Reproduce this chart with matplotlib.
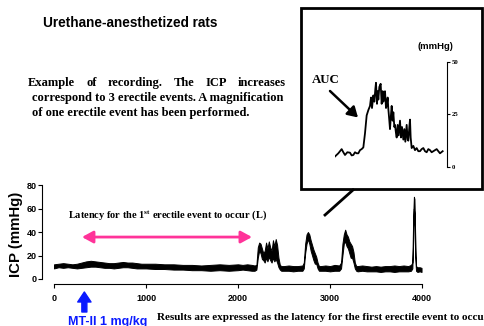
import matplotlib
matplotlib.use("Agg")
import matplotlib.pyplot as plt
from matplotlib.patches import Rectangle, FancyArrowPatch
from matplotlib.lines import Line2D

plt.rcParams['font.family'] = ['Liberation Sans', 'DejaVu Sans']
plt.rcParams['mathtext.fontset'] = 'custom'
plt.rcParams['mathtext.rm'] = 'Liberation Serif:bold'
plt.rcParams['mathtext.bf'] = 'Liberation Serif:bold'

# ---------------- data ----------------
# main ICP recording (time in s) given as lower / upper envelope of the noisy trace
trace_t = [0, 50, 100, 150, 200, 250, 300, 350, 400, 450, 500, 550, 600, 650, 700, 750,
           800, 850, 900, 950, 1000, 1100, 1200, 1300, 1400, 1500, 1600, 1700, 1800, 1900,
           2000, 2050, 2100, 2150, 2180,
           2200, 2215, 2230, 2245, 2260, 2275, 2290, 2305, 2320, 2335, 2350, 2365, 2380,
           2395, 2410, 2425, 2440, 2455, 2470,
           2500, 2550, 2600, 2650, 2700,
           2715, 2730, 2745, 2760, 2775, 2790, 2805, 2820, 2835, 2850, 2865, 2880,
           2900, 2950, 3000, 3050, 3100,
           3120, 3135, 3150, 3165, 3180, 3195, 3210, 3225, 3240, 3255, 3270, 3285,
           3300, 3350, 3400, 3450, 3500, 3550, 3600, 3650, 3700, 3750, 3800, 3850, 3880,
           3895, 3905, 3912, 3918, 3925, 3935,
           3950, 3975, 3995]
trace_lo = [9, 10, 9.5, 10, 9.5, 9, 9.5, 10, 10.5, 10.5, 10, 9.5, 9.5, 9, 9.5, 10,
            10, 9.5, 9, 9, 9, 8.5, 8.5, 8, 8, 7.5, 7.5, 7, 7.5, 7,
            7.5, 8, 7.5, 7, 7,
            8, 18, 24, 22, 17, 16, 14, 18, 15, 19, 16, 14, 18,
            15, 17, 14, 10, 8, 7,
            7, 7, 6.5, 7, 7,
            9, 22, 30, 34, 30, 24, 20, 16, 13, 13, 9, 7,
            7, 7, 6.5, 7, 7,
            9, 20, 30, 32, 28, 26, 22, 18, 18, 14, 9, 7,
            6.5, 7, 6.5, 6.5, 6.5, 6, 6.5, 6.5, 6, 6.5, 6.5, 6.5, 7,
            9, 35, 60, 55, 20, 7,
            6, 6.5, 6]
trace_hi = [12.5, 13, 13.5, 13, 12.5, 13, 14, 15, 15.5, 15, 14.5, 14, 13.5, 13.5, 14, 14.5,
            14, 14, 13.5, 13, 13, 13, 12.5, 12.5, 12, 12, 11.5, 12, 12.5, 12,
            12.5, 12, 12.5, 12, 11.5,
            12, 27, 31, 30, 26, 22, 24, 31, 26, 32, 27, 24, 33,
            28, 34, 29, 18, 12, 11,
            11, 11.5, 11, 11, 11.5,
            14, 30, 38, 40, 38, 33, 29, 25, 22, 19, 14, 11,
            11, 11.5, 11, 12, 11.5,
            14, 30, 38, 42, 38, 36, 32, 30, 28, 23, 14, 11,
            11, 11.5, 11, 10.5, 11, 10.5, 11, 11, 11.5, 11, 11.5, 11, 12,
            14, 55, 70, 68, 40, 11,
            10, 10, 9.5]

x_ticks = [0, 1000, 2000, 3000, 4000]
y_ticks = [0, 20, 40, 60, 80]

# magnified erectile event (arbitrary time units) in mmHg
inset_t = [0, 10, 20, 25, 30, 37, 45, 50, 55, 60, 65, 70, 75, 80, 85, 90, 95, 100, 105,
           108, 111, 115, 118, 121, 123, 126, 128, 130, 133, 137, 140, 143, 145, 148,
           150, 153, 155, 158, 160, 163, 165, 168, 170, 173, 175, 178, 180, 183, 185,
           188, 191, 195, 198, 201, 205, 208, 211, 215, 218, 220, 223, 225, 227, 230,
           235, 240, 245, 250, 255, 260, 265, 270, 275, 280, 285, 290, 295, 300, 305,
           310, 315, 319, 323]
inset_v = [5, 6.5, 8.5, 7, 5.7, 7, 6.8, 5.5, 5.7, 7, 6.5, 6.5, 8, 8.5, 9.3, 16, 24.5, 27, 29,
           33, 28, 34, 31, 37, 40, 30, 36, 32, 38, 39.5, 30, 36, 31, 34,
           36, 28, 29, 33, 27.6, 22, 18, 25, 29, 22, 26, 19, 20, 16, 14,
           20, 15, 22, 14, 19, 13, 18, 12, 20, 13, 12.5, 19, 22.5, 14, 9,
           10, 8, 9, 7.5, 7.5, 8.5, 9, 7.5, 7, 8.5, 8, 7, 7.5, 8, 8.5,
           7.5, 6.5, 7, 7.5]
inset_ticks = [0, 25, 50]

drug_time = 330          # MT-II injection time (s)
latency_start = 304
latency_end = 2152
latency_level = 35.7

# ---------------- figure ----------------
W, H = 484, 326
fig = plt.figure(figsize=(W / 100, H / 100), dpi=100)
fig.patch.set_facecolor('white')


def fx(px):
    return px / W


def fy(py):
    return 1 - py / H


renderer = fig.canvas.get_renderer()


def fit_text(px, py, s, target_w, size0=7, vertical=False, **kw):
    t = fig.text(fx(px), fy(py), s, fontsize=size0, **kw)
    bb = t.get_window_extent(renderer)
    w = bb.height if vertical else bb.width
    t.set_fontsize(size0 * target_w / w)
    return t


SERIF = ['Liberation Serif', 'DejaVu Serif']

# main axes
ax = fig.add_axes([fx(54), fy(279), (422 - 54) / W, (279 - 185) / H])
ax.fill_between(trace_t, trace_lo, trace_hi, color='black', lw=0.7, zorder=3)
ax.set_xlim(0, 4000)
ax.set_ylim(0, 80)
ax.set_xticks(x_ticks)
ax.set_yticks(y_ticks)
for s in ['top', 'right']:
    ax.spines[s].set_visible(False)
ax.spines['left'].set_position(('outward', 8.3))
ax.spines['bottom'].set_position(('outward', 3.6))
for s in ['left', 'bottom']:
    ax.spines[s].set_linewidth(0.8)
ax.tick_params(axis='both', length=3, width=0.8, labelsize=6.5)
ax.tick_params(axis='x', pad=4.5)
ax.tick_params(axis='y', pad=1.2)
for lbl in ax.get_xticklabels() + ax.get_yticklabels():
    lbl.set_fontweight('bold')
ax.patch.set_alpha(0)

# y label
fit_text(16.5, 234.5, 'ICP (mmHg)', 86, size0=9, vertical=True, fontweight='bold',
         rotation=90, ha='center', va='center')

# latency double arrow
ax.annotate('', xy=(latency_end, latency_level), xytext=(latency_start, latency_level),
            arrowprops=dict(arrowstyle='<|-|>,head_length=0.55,head_width=0.3',
                            color='#FF3399', lw=2, mutation_scale=12, shrinkA=0, shrinkB=0))

# MT-II arrow (blue)
ax.annotate('', xy=(drug_time, H - 292), xytext=(drug_time, H - 312),
            xycoords=('data', 'figure pixels'), textcoords=('data', 'figure pixels'),
            arrowprops=dict(arrowstyle='simple,head_length=0.6,head_width=0.8,tail_width=0.3',
                            color='#0A1AFF', mutation_scale=12, shrinkA=0, shrinkB=0),
            annotation_clip=False)

# inset axes
ax2 = fig.add_axes([fx(335), fy(167), (447 - 335) / W, (167 - 61.7) / H])
ax2.plot(inset_t, inset_v, color='black', lw=1.3)
ax2.set_xlim(0, 336)
ax2.set_ylim(0, 50)
for s in ['top', 'left', 'bottom']:
    ax2.spines[s].set_visible(False)
ax2.spines['right'].set_linewidth(0.8)
ax2.set_xticks([])
ax2.yaxis.tick_right()
ax2.set_yticks(inset_ticks)
ax2.tick_params(axis='y', length=2, width=0.8, pad=1.5, labelsize=4.8)
for lbl in ax2.get_yticklabels():
    lbl.set_fontweight('bold')
    lbl.set_family(SERIF)
ax2.patch.set_alpha(0)

# inset frame and connector
fig.add_artist(Rectangle((fx(301), fy(189)), (482 - 301) / W, (189 - 8) / H,
                         transform=fig.transFigure, fill=False, lw=2, ec='black'))
fig.add_artist(Line2D([fx(353), fx(325)], [fy(190), fy(215)], transform=fig.transFigure,
                      color='black', lw=2))

# AUC arrow
fit_text(311.5, 80, 'AUC', 28, size0=6.5, fontweight='bold', family=SERIF,
         ha='left', va='center')
fig.add_artist(FancyArrowPatch(
    (fx(330), fy(91)), (fx(358), fy(117.5)), transform=fig.transFigure,
    arrowstyle='-|>,head_length=0.5,head_width=0.3', mutation_scale=12,
    color='black', lw=1.8, shrinkA=0, shrinkB=0))
fit_text(418, 46.5, '(mmHg)', 36, size0=5.5, fontweight='bold', ha='left', va='center')

# title
fit_text(43.3, 23.3, 'Urethane-anesthetized rats', 176, size0=8, fontweight='bold',
         ha='left', va='center')

# paragraph (justified)
line2 = fit_text(32, 98, 'correspond to 3 erectile events. A magnification', 254, size0=7,
                 fontweight='bold', family=SERIF, ha='left', va='center')
psize = line2.get_fontsize()
fig.text(fx(32), fy(112.6), 'of one erectile event has been performed.', fontsize=psize,
         fontweight='bold', family=SERIF, ha='left', va='center')
words = 'Example of recording. The ICP increases'.split()
tmp = [fig.text(0, 0, w, fontsize=psize, fontweight='bold', family=SERIF) for w in words]
widths = [t.get_window_extent(renderer).width for t in tmp]
for t in tmp:
    t.remove()
gap = (286 - 28 - sum(widths)) / (len(words) - 1)
xpos = 28
for w, wd in zip(words, widths):
    fig.text(fx(xpos), fy(83), w, fontsize=psize, fontweight='bold', family=SERIF,
             ha='left', va='center')
    xpos += wd + gap

# latency label
fit_text(68, 215, r'Latency for the 1$^{\rm st}$ erectile event to occur (L)', 200, size0=6,
         fontweight='bold', family=SERIF, ha='left', va='center')

# bottom texts
probe = fig.text(0, 0, 'Results are expressed as the latency for the first erectile event to occu',
                 fontsize=6, fontweight='bold', family=SERIF)
bw = probe.get_window_extent(renderer).width
probe.remove()
fig.text(fx(157), fy(316.7),
         'Results are expressed as the latency for the first erectile event to occur (L).',
         fontsize=6 * 327 / bw, fontweight='bold', family=SERIF, ha='left', va='center')
mt = fit_text(68, 325.5, 'MT-II 1 mg/kg', 80, size0=8, fontweight='bold', color='#0A1AFF',
              ha='left', va='baseline')

fig.savefig('out.png', dpi=100)
